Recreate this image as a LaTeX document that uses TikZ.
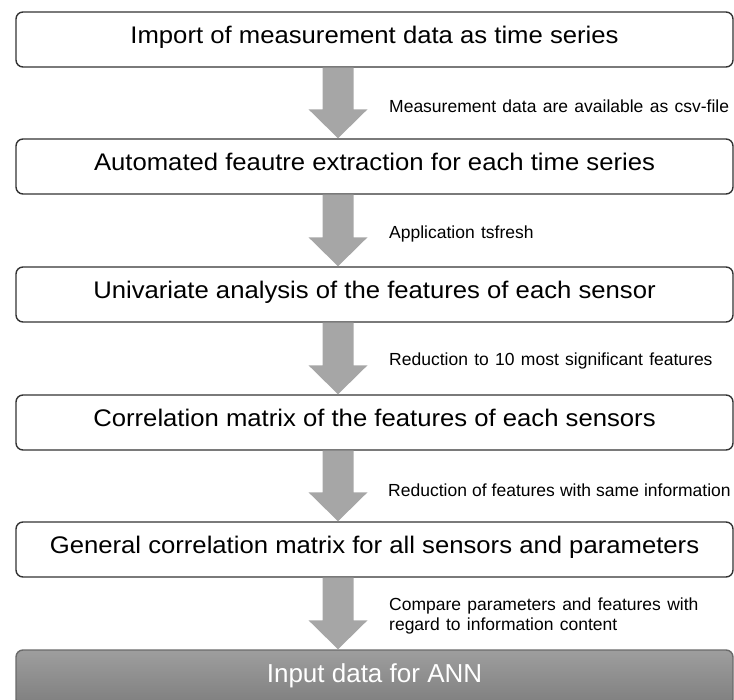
\documentclass[tikz,border=0pt]{standalone}
\usepackage{fontspec}
\setmainfont{Liberation Sans}
\newfontfamily\titlefont{Liberation Sans}[FakeStretch=1.07]
\usetikzlibrary{calc}
\definecolor{arrowgray}{HTML}{A6A6A6}
\definecolor{boxline}{HTML}{333333}
\definecolor{finalline}{HTML}{6A6A6A}
\definecolor{finaltop}{HTML}{9E9E9E}
\definecolor{finalbottom}{HTML}{7E7E7E}
\newcommand\flowarrow[2]{%
  \fill[arrowgray] ($(ax|-#1.south)+(-15.5,0)$) -- ($(ax|-#1.south)+(15.5,0)$)
    -- ($(ax|-#2.north)+(15.5,-29)$) -- ($(ax|-#2.north)+(29.5,-29)$)
    -- (ax|-#2.north) -- ($(ax|-#2.north)+(-29.5,-29)$)
    -- ($(ax|-#2.north)+(-15.5,-29)$) -- cycle;}
\newcommand\notefont{\fontsize{17.5}{20}\selectfont\spaceskip 0.36em plus 0.1em minus 0.05em\relax}
\newcommand\tightnotefont{\fontsize{17.5}{20}\selectfont\spaceskip 0.29em\relax}
\begin{document}
\begin{tikzpicture}[x=1pt,y=-1pt,
  stepbox/.style={draw=boxline, line width=1.4pt, rounded corners=7pt,
    minimum width=717pt, minimum height=55pt, inner sep=0pt, fill=white,
    text height=0.95em, text depth=0.15em,
    font=\titlefont\fontsize{24}{30}\selectfont},
  finalbox/.style={draw=finalline, line width=1.4pt, rounded corners=7pt,
    minimum width=717pt, minimum height=56pt, inner sep=0pt,
    top color=finaltop, bottom color=finalbottom, text=white,
    text height=0.95em, text depth=0.15em,
    font=\fontsize{26}{30}\selectfont},
  note/.style={anchor=west, inner sep=0pt, align=left, font=\notefont}]
\useasboundingbox (0,0) rectangle (734,700);
\clip (0,0) rectangle (734,700);
\coordinate (ax) at (338,0);
\node[stepbox] (b1) at (374.5,39.5) {Import of measurement data as time series};
\node[stepbox] (b2) at (374.5,166.5) {Automated feautre extraction for each time series};
\node[stepbox] (b3) at (374.5,294.5) {Univariate analysis of the features of each sensor};
\node[stepbox] (b4) at (374.5,422.5) {Correlation matrix of the features of each sensors};
\node[stepbox] (b5) at (374.5,549.5) {General correlation matrix for all sensors and parameters};
\node[finalbox] (b6) at (374.5,678) {Input data for ANN};
\flowarrow{b1}{b2}
\flowarrow{b2}{b3}
\flowarrow{b3}{b4}
\flowarrow{b4}{b5}
\flowarrow{b5}{b6}
\node[note] (l1) at (389,106) {Measurement data are available as csv-file};
\node[note] (l2) at (389,234) {Application tsfresh};
\node[note] (l3) at (389,361) {Reduction to 10 most significant features};
\node[note, font=\tightnotefont] (l4) at (388,490) {Reduction of features with same information};
\node[note] (l5) at (389,616) {Compare parameters and features with\\regard to information content};
\end{tikzpicture}
\end{document}
